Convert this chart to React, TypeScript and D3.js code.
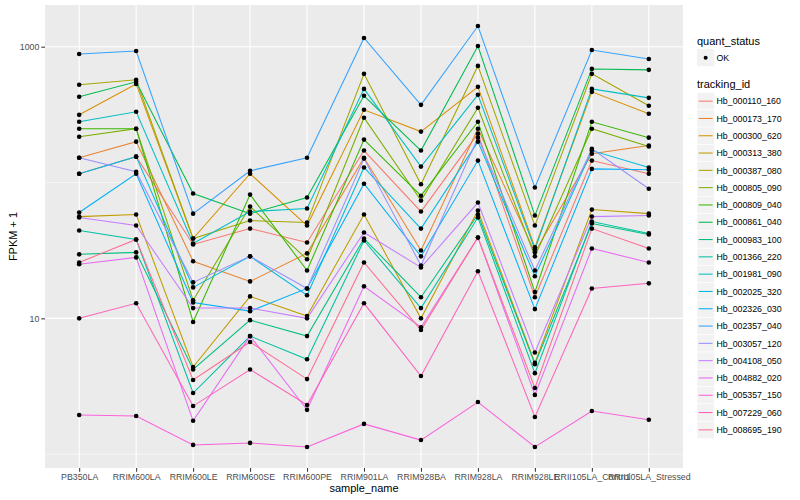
import React, { useRef, useEffect } from "react";
import * as d3 from "d3";

// sample names on the x axis
const samples = [
  "PB350LA",
  "RRIM600LA",
  "RRIM600LE",
  "RRIM600SE",
  "RRIM600PE",
  "RRIM901LA",
  "RRIM928BA",
  "RRIM928LA",
  "RRIM928LE",
  "RRII105LA_Control",
  "RRII105LA_Stressed",
];

const trackingIds = [
  "Hb_000110_160",
  "Hb_000173_170",
  "Hb_000300_620",
  "Hb_000313_380",
  "Hb_000387_080",
  "Hb_000805_090",
  "Hb_000809_040",
  "Hb_000861_040",
  "Hb_000983_100",
  "Hb_001366_220",
  "Hb_001981_090",
  "Hb_002025_320",
  "Hb_002326_030",
  "Hb_002357_040",
  "Hb_003057_120",
  "Hb_004108_050",
  "Hb_004882_020",
  "Hb_005357_150",
  "Hb_007229_060",
  "Hb_008695_190",
];

// FPKM + 1, one array per gene, in sample order
const hb000110_160 = [116, 155, 35, 45.8, 36.2, 172, 61.1, 229, 14.3, 145, 116];
const hb000173_170 = [152, 200, 26.3, 18.7, 30.1, 152, 31.6, 249, 30.6, 163, 187];
const hb000300_620 = [315, 532, 38.7, 116, 48.2, 343, 237, 506, 33.3, 465, 321];
const hb000313_380 = [56.1, 58.1, 4.38, 14.5, 10.4, 58.1, 10, 62.1, 4.7, 63.2, 59];
const hb000387_080 = [524, 570, 38.7, 52.5, 50.7, 631, 97, 722, 48.2, 631, 367];
const hb000805_090 = [217, 249, 13.6, 66.5, 27.2, 300, 73.6, 355, 28.6, 249, 184];
const hb000809_040 = [249, 249, 9.4, 81.5, 22.5, 207, 80, 280, 15.6, 280, 214];
const hb000861_040 = [428, 551, 83, 59, 77.5, 435, 172, 1012, 57.1, 686, 675];
const hb000983_100 = [29.6, 30.6, 4.2, 9.7, 7.4, 38.7, 14.3, 58.1, 4.6, 49.9, 41.4];
const hb001366_220 = [44.3, 38.1, 2.82, 7.4, 5, 37.4, 11.9, 55.2, 3.95, 51.6, 42.2];
const hb001981_090 = [280, 332, 35.6, 61.1, 64.3, 489, 131, 442, 32.2, 489, 420];
const hb002025_320 = [116, 155, 16.9, 28.6, 14.8, 129, 45.8, 200, 20.4, 172, 129];
const hb002326_030 = [60.1, 116, 13.1, 11.3, 16.6, 98, 28.6, 145, 11.7, 126, 124];
const hb002357_040 = [883, 929, 59, 122, 152, 1159, 373, 1419, 92, 946, 812];
const hb003057_120 = [152, 120, 18.4, 28.6, 16.6, 150, 24.5, 214, 22.5, 177, 90];
const hb004108_050 = [55.2, 48.2, 11.9, 11.9, 10, 42.9, 23.7, 71.2, 5.6, 56.1, 57.1];
const hb004882_020 = [25, 28.1, 1.76, 7.4, 2.12, 17.2, 8.6, 39.4, 2.73, 32.7, 25.8];
const hb005357_150 = [1.94, 1.91, 1.17, 1.21, 1.13, 1.67, 1.27, 2.42, 1.13, 2.08, 1.79];
const hb007229_060 = [10, 12.9, 2.26, 4.2, 2.3, 12.9, 3.76, 22.2, 1.88, 16.6, 18.1];
const hb008695_190 = [25.8, 38.1, 3.52, 6.7, 3.57, 25.8, 8.2, 39.4, 3.07, 45.8, 32.7];

const seriesValues = [
  hb000110_160, hb000173_170, hb000300_620, hb000313_380, hb000387_080,
  hb000805_090, hb000809_040, hb000861_040, hb000983_100, hb001366_220,
  hb001981_090, hb002025_320, hb002326_030, hb002357_040, hb003057_120,
  hb004108_050, hb004882_020, hb005357_150, hb007229_060, hb008695_190,
];

const yTicks = [10, 1000];
const yMinor = [1, 100];

// ggplot hue_pal() for 20 groups
const colors = [
  "#F8766D", "#EA8331", "#D89000", "#C09B00", "#A3A500",
  "#7CAE00", "#39B600", "#00BB4E", "#00BF7D", "#00C1A3",
  "#00BFC4", "#00BAE0", "#00B0F6", "#35A2FF", "#9590FF",
  "#C77CFF", "#E76BF3", "#FA62DB", "#FF62BC", "#FF6C91",
];

interface Point {
  sample: string;
  value: number;
}

const App: React.FC = () => {
  const svgRef = useRef<SVGSVGElement>(null);
  const width = 800;
  const height = 500;

  useEffect(() => {
    if (!svgRef.current) return;
    const svg = d3.select(svgRef.current);
    svg.selectAll("*").remove();

    const margin = { top: 5, right: 117, bottom: 32, left: 45 };
    const font = "'Liberation Sans', Arial, Helvetica, sans-serif";

    const xScale = d3
      .scalePoint<string>()
      .domain(samples)
      .range([margin.left, width - margin.right])
      .padding(0.6);

    // log extent with 5% expansion, like ggplot
    const all = seriesValues.flat();
    const lo = Math.log10(d3.min(all)!);
    const hi = Math.log10(d3.max(all)!);
    const pad = (hi - lo) * 0.05;
    const yScale = d3
      .scaleLog()
      .domain([Math.pow(10, lo - pad), Math.pow(10, hi + pad)])
      .range([height - margin.bottom, margin.top]);

    // panel background
    svg
      .append("rect")
      .attr("x", margin.left)
      .attr("y", margin.top)
      .attr("width", width - margin.left - margin.right)
      .attr("height", height - margin.top - margin.bottom)
      .attr("fill", "#EBEBEB");

    // grid
    svg
      .selectAll(".minor")
      .data(yMinor)
      .enter()
      .append("line")
      .attr("x1", margin.left)
      .attr("x2", width - margin.right)
      .attr("y1", (d) => yScale(d))
      .attr("y2", (d) => yScale(d))
      .attr("stroke", "white")
      .attr("stroke-width", 0.55);

    svg
      .selectAll(".major-y")
      .data(yTicks)
      .enter()
      .append("line")
      .attr("x1", margin.left)
      .attr("x2", width - margin.right)
      .attr("y1", (d) => yScale(d))
      .attr("y2", (d) => yScale(d))
      .attr("stroke", "white")
      .attr("stroke-width", 1.1);

    svg
      .selectAll(".major-x")
      .data(samples)
      .enter()
      .append("line")
      .attr("x1", (d) => xScale(d)!)
      .attr("x2", (d) => xScale(d)!)
      .attr("y1", margin.top)
      .attr("y2", height - margin.bottom)
      .attr("stroke", "white")
      .attr("stroke-width", 1.1);

    // lines
    const line = d3
      .line<Point>()
      .x((d) => xScale(d.sample)!)
      .y((d) => yScale(d.value));

    const series = seriesValues.map((vals) =>
      vals.map((v, j) => ({ sample: samples[j], value: v }))
    );

    svg
      .selectAll(".gene")
      .data(series)
      .enter()
      .append("path")
      .attr("d", (d) => line(d))
      .attr("fill", "none")
      .attr("stroke", (_, i) => colors[i])
      .attr("stroke-width", 1.05);

    // points
    svg
      .selectAll(".pt")
      .data(series.flat())
      .enter()
      .append("circle")
      .attr("cx", (d) => xScale(d.sample)!)
      .attr("cy", (d) => yScale(d.value))
      .attr("r", 2.3)
      .attr("fill", "black");

    // axes
    const yAxis = d3
      .axisLeft(yScale)
      .tickValues(yTicks)
      .tickFormat((d) => String(d))
      .tickSize(3.7)
      .tickPadding(2);
    const gy = svg
      .append("g")
      .attr("transform", `translate(${margin.left},0)`)
      .call(yAxis);
    gy.select(".domain").remove();
    gy.selectAll("line").attr("stroke", "#333333").attr("stroke-width", 1.05);
    gy.selectAll("text")
      .attr("fill", "#4D4D4D")
      .style("font-family", font)
      .style("font-size", "8.8px");

    const xAxis = d3.axisBottom(xScale).tickSize(3.7).tickPadding(2);
    const gx = svg
      .append("g")
      .attr("transform", `translate(0,${height - margin.bottom})`)
      .call(xAxis);
    gx.select(".domain").remove();
    gx.selectAll("line").attr("stroke", "#333333").attr("stroke-width", 1.05);
    gx.selectAll("text")
      .attr("fill", "#4D4D4D")
      .style("font-family", font)
      .style("font-size", "8.8px");

    // axis titles
    svg
      .append("text")
      .attr("x", (margin.left + width - margin.right) / 2)
      .attr("y", 492)
      .attr("text-anchor", "middle")
      .style("font-family", font)
      .style("font-size", "11px")
      .text("sample_name");

    svg
      .append("text")
      .attr("transform", `translate(17,${(margin.top + height - margin.bottom) / 2}) rotate(-90)`)
      .attr("text-anchor", "middle")
      .style("font-family", font)
      .style("font-size", "11px")
      .text("FPKM + 1");

    // legends
    const lx = 697;
    const key = 17.3;
    const legend = svg.append("g").attr("transform", `translate(${lx},0)`);

    legend
      .append("text")
      .attr("x", 0)
      .attr("y", 45)
      .style("font-family", font)
      .style("font-size", "11px")
      .text("quant_status");
    legend
      .append("rect")
      .attr("x", 0)
      .attr("y", 49)
      .attr("width", key)
      .attr("height", key)
      .attr("fill", "#F2F2F2");
    legend
      .append("circle")
      .attr("cx", key / 2)
      .attr("cy", 49 + key / 2)
      .attr("r", 2)
      .attr("fill", "black");
    legend
      .append("text")
      .attr("x", 19.5)
      .attr("y", 49 + key / 2 + 3.2)
      .style("font-family", font)
      .style("font-size", "8.8px")
      .text("OK");

    legend
      .append("text")
      .attr("x", 0)
      .attr("y", 88)
      .style("font-family", font)
      .style("font-size", "11px")
      .text("tracking_id");

    trackingIds.forEach((id, i) => {
      const g = legend
        .append("g")
        .attr("transform", `translate(0, ${92.5 + i * key})`);
      g.append("rect")
        .attr("width", key)
        .attr("height", key)
        .attr("fill", "#F2F2F2")
        .attr("stroke", "white")
        .attr("stroke-width", 0.6);
      g.append("line")
        .attr("x1", 1.7)
        .attr("x2", key - 1.7)
        .attr("y1", key / 2)
        .attr("y2", key / 2)
        .attr("stroke", colors[i])
        .attr("stroke-width", 1.05);
      g.append("text")
        .attr("x", 19.5)
        .attr("y", key / 2 + 3.2)
        .style("font-family", font)
        .style("font-size", "8.8px")
        .text(id);
    });
  }, []);

  return (
    <svg
      ref={svgRef}
      width={width}
      height={height}
      style={{ position: "absolute", left: 0, top: 0, background: "white" }}
    ></svg>
  );
};

export default App;
